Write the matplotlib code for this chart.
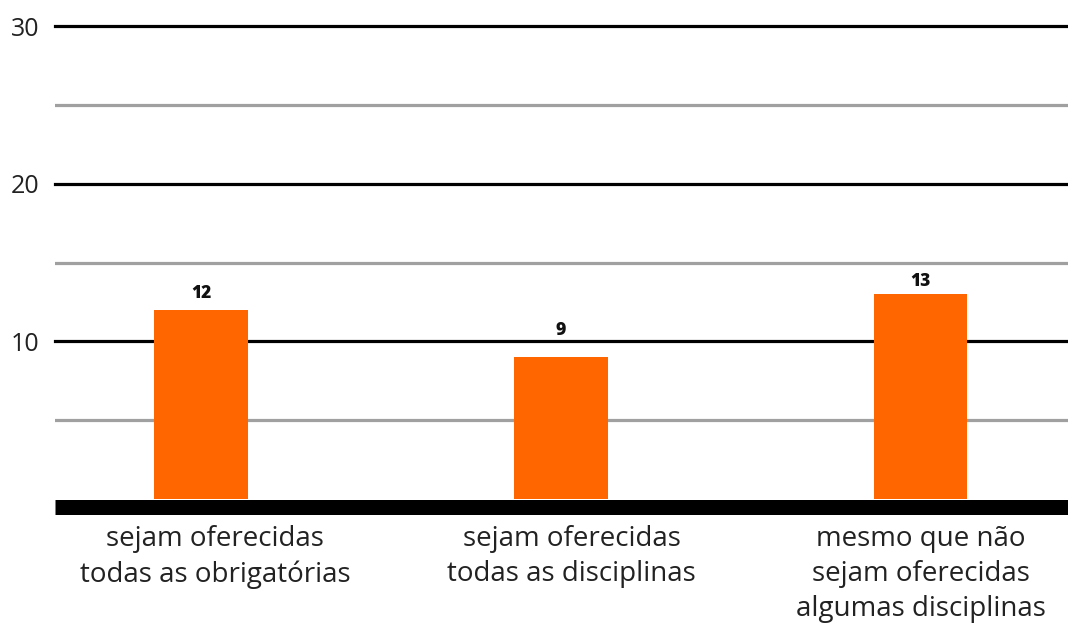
import matplotlib.pyplot as plt
from matplotlib.transforms import ScaledTranslation

# data
categories = ["sejam oferecidas\ntodas as obrigatórias",
              "sejam oferecidas\ntodas as disciplinas",
              "mesmo que não\nsejam oferecidas\nalgumas disciplinas"]
values = [12, 9, 13]
major_ticks = [10, 20, 30]
minor_ticks = [5, 15, 25]

plt.rcParams['font.family'] = ['Open Sans', 'DejaVu Sans']

fig = plt.figure(figsize=(10.68, 6.23), dpi=100)
# axes placed so that y=0 sits at ~499px and y=30 at ~26px
ymax = 30.5
bottom = (623 - 499) / 623
top_px = 499 - (499 - 26) * ymax / 30
ax = fig.add_axes([55 / 1068, bottom, 1 - 55 / 1068, (499 - top_px) / 623])

x = list(range(len(categories)))
ax.bar(x, values, width=0.26, color="#FF6600", zorder=3)

# value labels (in the original they sit on a compressed scale above the bars)
for xi, v in zip(x, values):
    ax.text(xi, 0.77 * v + 3.5, str(v), ha="center", va="baseline",
            fontsize=12.5, fontweight=800, color="#111111", zorder=5)

# grid lines
for t in major_ticks:
    ax.axhline(t, color="black", lw=2.3, zorder=1, clip_on=False)
for t in minor_ticks:
    ax.axhline(t, color="#a0a0a0", lw=2.3, zorder=1)

ax.set_xlim(-0.406, 2.41)
ax.set_ylim(0, ymax)

for s in ["top", "right", "left"]:
    ax.spines[s].set_visible(False)
ax.spines["bottom"].set_linewidth(10.8)
ax.spines["bottom"].set_capstyle("butt")
ax.spines["bottom"].set_position(("outward", 5.4))
ax.spines["bottom"].set_zorder(4)

ax.set_yticks(major_ticks)
ax.tick_params(axis="y", length=0, pad=11, labelsize=18, labelcolor="#222222")
ax.set_xticks(x)
ax.set_xticklabels(categories, fontsize=20, color="#222222", linespacing=1.32)
ax.tick_params(axis="x", length=0, pad=13.5)

# small horizontal nudges of the category labels, as in the original
for lab, dx in zip(ax.get_xticklabels(), [14, 11, 0]):
    lab.set_transform(lab.get_transform() + ScaledTranslation(dx / 100, 0, fig.dpi_scale_trans))

fig.savefig("out.png", dpi=100)
